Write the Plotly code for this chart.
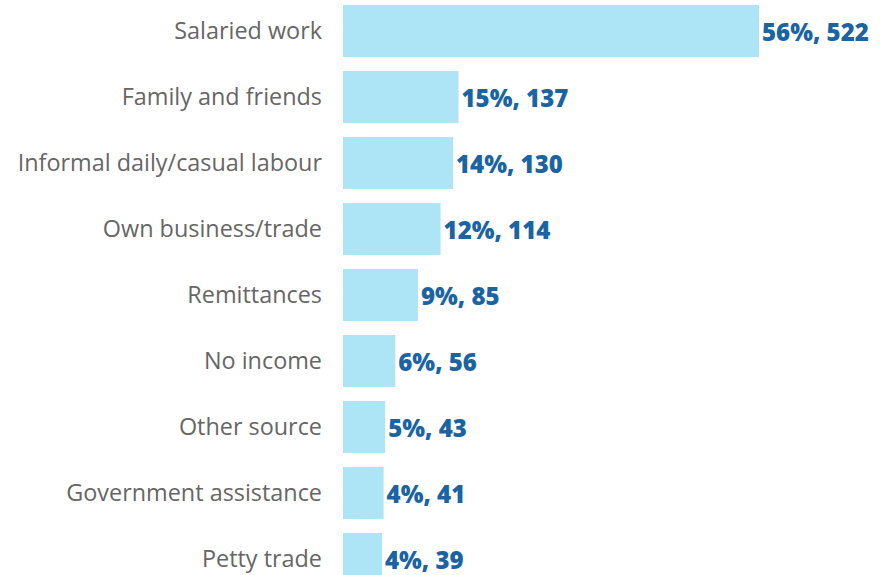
import plotly.graph_objects as go

# Main sources of household income
categories = [
    "Salaried work",
    "Family and friends",
    "Informal daily/casual labour",
    "Own business/trade",
    "Remittances",
    "No income",
    "Other source",
    "Government assistance",
    "Petty trade",
]
percents = [56, 15, 14, 12, 9, 6, 5, 4, 4]
counts = [522, 137, 130, 114, 85, 56, 43, 41, 39]

# x-axis starts slightly left of zero; bars are drawn from the axis start
AXIS_START = -11
AXIS_END = 677

labels = [f"{p}%, {n}" for p, n in zip(percents, counts)]

fig = go.Figure(
    go.Bar(
        x=[c - AXIS_START for c in counts],
        base=AXIS_START,
        y=categories,
        orientation="h",
        marker=dict(color="#ADE5F6", line=dict(width=0)),
        text=labels,
        textposition="outside",
        textfont=dict(family="Open Sans", size=24, color="#1B64A3", weight=800),
        cliponaxis=False,
        hoverinfo="skip",
    )
)

fig.update_layout(
    width=895,
    height=575,
    margin=dict(l=343, r=15, t=0, b=0),
    paper_bgcolor="white",
    plot_bgcolor="white",
    bargap=0.21,
    showlegend=False,
    font=dict(family="Open Sans"),
)

fig.update_xaxes(
    range=[AXIS_START, AXIS_END],
    visible=False,
    showgrid=False,
    zeroline=False,
)

fig.update_yaxes(
    categoryorder="array",
    categoryarray=categories,
    range=[8.242, -0.47],
    showgrid=False,
    zeroline=False,
    showline=False,
    ticks="",
    ticklabelstandoff=20,
    tickfont=dict(family="Open Sans", size=23.4, color="#666666", weight=400),
)

fig.write_html("out.html")
